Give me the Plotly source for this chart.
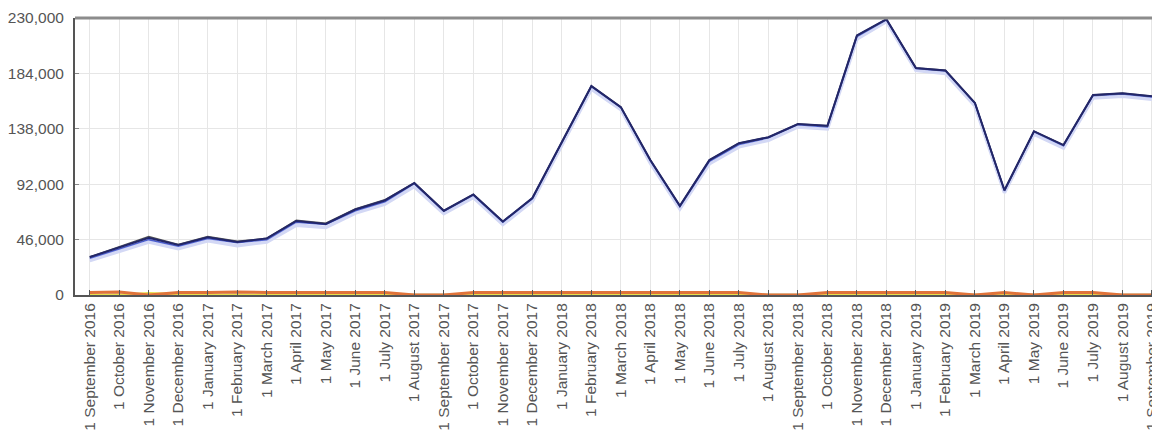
import plotly.graph_objects as go

months = ["1 September 2016", "1 October 2016", "1 November 2016", "1 December 2016",
          "1 January 2017", "1 February 2017", "1 March 2017", "1 April 2017", "1 May 2017",
          "1 June 2017", "1 July 2017", "1 August 2017", "1 September 2017", "1 October 2017",
          "1 November 2017", "1 December 2017", "1 January 2018", "1 February 2018",
          "1 March 2018", "1 April 2018", "1 May 2018", "1 June 2018", "1 July 2018",
          "1 August 2018", "1 September 2018", "1 October 2018", "1 November 2018",
          "1 December 2018", "1 January 2019", "1 February 2019", "1 March 2019",
          "1 April 2019", "1 May 2019", "1 June 2019", "1 July 2019", "1 August 2019",
          "1 September 2019"]

lavender_vals = [28500, 36500, 44000, 38500, 45000, 41000, 44000, 58000, 56000, 68000,
                 75500, 90000, 67500, 81000, 58500, 78000, 124000, 171000, 154000, 109500,
                 71500, 109000, 123000, 128500, 139500, 138000, 212500, 227000, 186500,
                 184000, 157000, 85000, 133500, 122000, 163500, 165000, 162500]

blue_vals = [30500, 38500, 46000, 40500, 47000, 43500, 46000, 60500, 58500, 70000,
             77500, 92500, 69500, 83000, 60500, 80000, 126500, 173000, 155500, 111500,
             73500, 111000, 125000, 130500, 141500, 139500, 214500, 228500, 188000,
             186000, 159000, 86500, 135500, 124000, 165500, 167000, 164500]

gray_vals = [31500, 40000, 48500, 42000, 48500, 44500, 47000, 62000, 59500, 71500,
             79000, 93000, 70000, 83500, 61000, 80500, 127000, 173500, 156000, 112000,
             74000, 112000, 126000, 131000, 142000, 140500, 215500, 229000, 188500,
             186500, 159500, 87000, 136000, 124500, 166000, 167500, 165000]

navy_vals = [31500, 39500, 47500, 41500, 48000, 44000, 47000, 61500, 59000, 71000,
             78500, 93000, 70000, 83500, 61000, 80500, 127000, 173500, 156000, 112000,
             74000, 112000, 126000, 131000, 142000, 140500, 215500, 229000, 188500,
             186500, 159500, 87000, 136000, 124500, 166000, 167500, 165000]

orange_vals = [2000, 2500, 0, 2000, 2000, 2500, 2000, 2000, 2000, 2000,
               2000, 0, 0, 2000, 2000, 2000, 2000, 2000, 2000, 2000,
               2000, 2000, 2000, 0, 0, 2000, 2000, 2000, 2000, 2000,
               0, 2000, 0, 2000, 2000, 0, 0]

yellow_vals = [0, 0, 1500, 500, 0, 0, 0, 0, 0, 0,
               0, 0, 0, 0, 0, 0, 0, 0, 0, 0,
               0, 0, 0, 0, 0, 0, 0, 0, 0, 0,
               0, 0, 0, 0, 0, 0, 0]

green_vals = [0] * 37
lightblue_vals = [0] * 37

yticks = [0, 46000, 92000, 138000, 184000, 230000]
ytick_text = ["0", "46,000", "92,000", "138,000", "184,000", "230,000"]

x = list(range(len(months)))

fig = go.Figure()

def add(vals, color, width):
    fig.add_trace(go.Scatter(x=x, y=vals, mode="lines",
                             line=dict(color=color, width=width),
                             showlegend=False, hoverinfo="skip", cliponaxis=False))

add(lightblue_vals, "#bcd4f2", 3)
add(green_vals, "#a6cc5a", 2)
add(yellow_vals, "#e6df4a", 2.5)
add(orange_vals, "#e0733a", 3)
add(lavender_vals, "#d3d8f5", 3.5)
add(blue_vals, "#4c5fd0", 1.6)
add(gray_vals, "#555555", 1.6)
add(navy_vals, "#22266a", 2)

fig.update_layout(
    width=1152, height=429,
    margin=dict(l=62, r=0, t=10, b=142),
    paper_bgcolor="white", plot_bgcolor="white",
    font=dict(family="Liberation Sans, Arial, sans-serif", color="#555555", size=15),
    xaxis=dict(
        range=[-0.5, 36.17],
        tickmode="array", tickvals=x, ticktext=months, tickangle=-90,
        showgrid=True, gridcolor="#e6e6e6", gridwidth=1,
        showline=True, linecolor="#555555", linewidth=2,
        ticks="inside", ticklen=5, tickcolor="#555555",
        tickfont=dict(size=15.5, color="#555555"),
        ticklabeloverflow="allow",
        zeroline=False,
    ),
    yaxis=dict(
        range=[0, 230000],
        tickmode="array", tickvals=yticks, ticktext=ytick_text,
        showgrid=True, gridcolor="#e6e6e6", gridwidth=1,
        showline=True, linecolor="#555555", linewidth=2,
        ticks="inside", ticklen=4, tickcolor="#888888",
        tickfont=dict(size=15.5, color="#555555"),
        ticklabelstandoff=6,
        zeroline=False,
    ),
    shapes=[dict(type="line", xref="paper", yref="paper", x0=0, x1=1, y0=1, y1=1,
                 line=dict(color="#8c8c8c", width=3), layer="above")],
)

fig.write_html("out.html")
